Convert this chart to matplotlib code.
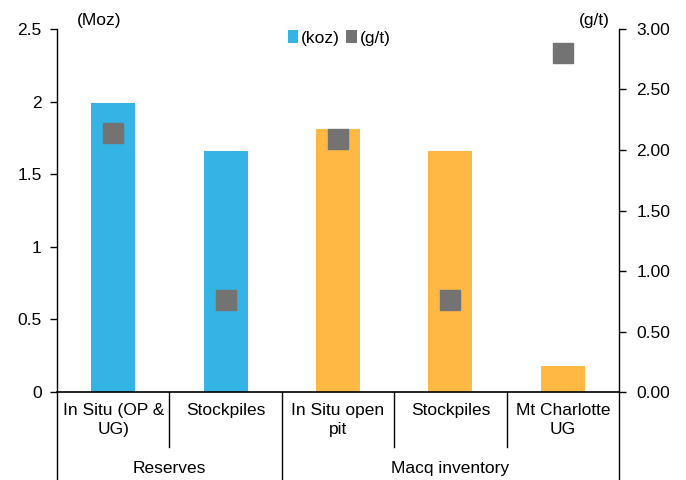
import matplotlib
matplotlib.use("Agg")
import matplotlib.pyplot as plt
import matplotlib.transforms as mtransforms
from matplotlib.lines import Line2D
from matplotlib.patches import Patch

plt.rcParams['font.family'] = ['Liberation Sans', 'DejaVu Sans']

categories = ["In Situ (OP &\nUG)", "Stockpiles", "In Situ open\npit", "Stockpiles", "Mt Charlotte\nUG"]
groups = ["Reserves", "Macq inventory"]
group_sizes = [2, 3]
ounces_moz = [1.99, 1.66, 1.81, 1.66, 0.18]
grade_gt = [2.14, 0.76, 2.09, 0.76, 2.80]
bar_colors = ["#33B4E5", "#33B4E5", "#FFB844", "#FFB844", "#FFB844"]
grade_color = "#737373"
left_ticks = [0, 0.5, 1, 1.5, 2, 2.5]
left_ticklabels = ["0", "0.5", "1", "1.5", "2", "2.5"]
right_ticks = [0, 0.5, 1, 1.5, 2, 2.5, 3]

FS = 12.5

fig = plt.figure(figsize=(6.86, 4.80), dpi=100)
ax = fig.add_axes([0.0831, 0.1833, 0.8192, 0.7563])
ax2 = ax.twinx()

x = list(range(len(categories)))
ax.bar(x, ounces_moz, width=0.39, color=bar_colors, zorder=2)
ax2.plot(x, grade_gt, linestyle="none", marker="s", markersize=14.5,
         color=grade_color, zorder=3)

ax.set_xlim(-0.5, len(categories) - 0.5)
ax.set_ylim(0, 2.5)
ax2.set_ylim(0, 3.0)
ax.set_yticks(left_ticks)
ax.set_yticklabels(left_ticklabels)
ax2.set_yticks(right_ticks)
ax2.set_yticklabels([f"{v:.2f}" for v in right_ticks])

for a in (ax, ax2):
    a.spines["top"].set_visible(False)
    a.tick_params(axis="y", direction="out", length=5, width=1, labelsize=FS,
                  colors="black")
ax.spines["right"].set_visible(False)
ax2.spines["left"].set_visible(False)
ax.tick_params(axis="y", pad=6)
ax2.tick_params(axis="y", pad=7.5)
ax.spines["left"].set_linewidth(1)
ax2.spines["right"].set_linewidth(1)
ax.spines["bottom"].set_linewidth(1.2)
ax2.spines["bottom"].set_visible(False)

# category axis: labels drawn manually with separators
ax.set_xticks([])
trans = mtransforms.blended_transform_factory(ax.transData, ax.transAxes)
px = 1.0 / (ax.get_position().height * fig.get_figheight() * fig.dpi)
for i, lab in enumerate(categories):
    ax.text(i, -11 * px, lab, transform=trans, ha="center", va="top",
            fontsize=FS, linespacing=1.3)

boundaries = [-0.5 + k for k in range(len(categories) + 1)]
group_edges = [-0.5]
for n in group_sizes:
    group_edges.append(group_edges[-1] + n)
for b in boundaries:
    depth = 90 if b in group_edges else 55
    ax.add_line(Line2D([b, b], [0, -depth * px], transform=trans,
                       color="black", linewidth=1, clip_on=False))

for gi, g in enumerate(groups):
    cx = (group_edges[gi] + group_edges[gi + 1]) / 2
    ax.text(cx, -76 * px, g, transform=trans, ha="center", va="center",
            fontsize=FS)

fig.text(99 / 686, 1 - 21 / 480, "(Moz)", ha="center", va="center", fontsize=FS)
fig.text(594 / 686, 1 - 20 / 480, "(g/t)", ha="center", va="center", fontsize=FS)

handles = [Patch(facecolor="#33B4E5", edgecolor="none"),
           Patch(facecolor=grade_color, edgecolor="none")]
fig.legend(handles, ["(koz)", "(g/t)"], loc="center",
           bbox_to_anchor=(339 / 686, 1 - 38 / 480), ncol=2, frameon=False,
           fontsize=FS, handlelength=0.6, handleheight=0.8,
           handletextpad=0.15, columnspacing=0.4, borderpad=0)

fig.savefig("out.png", dpi=100)
